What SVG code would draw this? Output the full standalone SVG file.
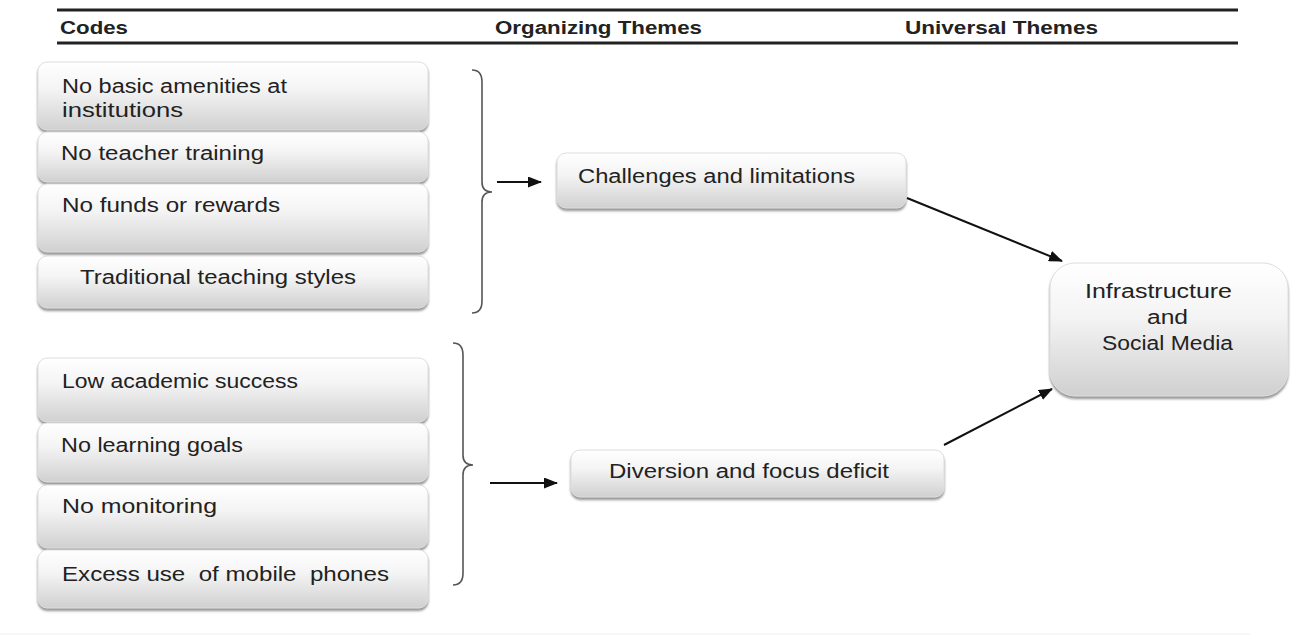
<svg xmlns="http://www.w3.org/2000/svg" width="1291" height="639" viewBox="0 0 1291 639">
<style>
.box{fill:url(#g);stroke:#dedede;stroke-width:1;filter:url(#sh)}
.t{font-family:"Liberation Sans",Arial,sans-serif;font-size:20px;fill:#222}
.h{font-family:"Liberation Sans",Arial,sans-serif;font-size:18px;font-weight:bold;fill:#222}
.rule{stroke:#222;stroke-width:3}
.brace{fill:none;stroke:#555;stroke-width:1.6}
.con line{stroke:#111;stroke-width:2;marker-end:url(#ah)}
</style>
<defs>
<linearGradient id="g" x1="0" y1="0" x2="0" y2="1">
<stop offset="0" stop-color="#ffffff"/>
<stop offset="0.4" stop-color="#f4f4f4"/>
<stop offset="1" stop-color="#d0d0d0"/>
</linearGradient>
<filter id="sh" x="-5%" y="-10%" width="110%" height="130%">
<feDropShadow dx="0" dy="2.5" stdDeviation="1.2" flood-color="#808080" flood-opacity="0.85"/>
</filter>
<marker id="ah" markerWidth="14" markerHeight="11" refX="13" refY="5.5" orient="auto" markerUnits="userSpaceOnUse">
<path d="M0,0 L14,5.5 L0,11 Z" fill="#111"/>
</marker>
</defs>
<rect width="1291" height="639" fill="#ffffff"/>
<g id="header">
<line class="rule" x1="57" y1="10" x2="1238" y2="10"/>
<line class="rule" x1="57" y1="43" x2="1238" y2="43"/>
<text class="h" x="60" y="34" textLength="68" lengthAdjust="spacingAndGlyphs">Codes</text>
<text class="h" x="495" y="34" textLength="207" lengthAdjust="spacingAndGlyphs">Organizing Themes</text>
<text class="h" x="905" y="34" textLength="193" lengthAdjust="spacingAndGlyphs">Universal Themes</text>
</g>
<g id="code1"><rect class="box" x="38" y="62" width="390" height="68" rx="9"/>
<text class="t" x="62" y="93" textLength="225" lengthAdjust="spacingAndGlyphs">No basic amenities at</text>
<text class="t" x="62" y="117" textLength="121" lengthAdjust="spacingAndGlyphs">institutions</text></g>
<g id="code2"><rect class="box" x="38" y="132" width="390" height="50" rx="9"/>
<text class="t" x="61" y="160" textLength="203" lengthAdjust="spacingAndGlyphs">No teacher training</text></g>
<g id="code3"><rect class="box" x="38" y="184" width="390" height="68" rx="9"/>
<text class="t" x="62" y="212" textLength="218" lengthAdjust="spacingAndGlyphs">No funds or rewards</text></g>
<g id="code4"><rect class="box" x="38" y="256" width="390" height="52" rx="9"/>
<text class="t" x="80" y="284" textLength="276" lengthAdjust="spacingAndGlyphs">Traditional teaching styles</text></g>
<g id="code5"><rect class="box" x="38" y="358" width="390" height="64" rx="9"/>
<text class="t" x="62" y="388" textLength="236" lengthAdjust="spacingAndGlyphs">Low academic success</text></g>
<g id="code6"><rect class="box" x="38" y="423" width="390" height="59" rx="9"/>
<text class="t" x="61" y="452" textLength="182" lengthAdjust="spacingAndGlyphs">No learning goals</text></g>
<g id="code7"><rect class="box" x="38" y="485" width="390" height="63" rx="9"/>
<text class="t" x="62" y="513" textLength="155" lengthAdjust="spacingAndGlyphs">No monitoring</text></g>
<g id="code8"><rect class="box" x="38" y="550" width="390" height="58" rx="9"/>
<text class="t" x="62" y="581" xml:space="preserve" textLength="327" lengthAdjust="spacingAndGlyphs">Excess use  of mobile  phones</text></g>
<g id="brace1"><path class="brace" d="M472,70 Q482,70 482,82 L482,182 Q482,192 492,192 Q482,192 482,202 L482,301 Q482,313 472,313"/></g>
<g id="brace2"><path class="brace" d="M453,343 Q463,343 463,355 L463,455 Q463,465 473,465 Q463,465 463,475 L463,573 Q463,585 453,585"/></g>
<g id="challenges"><rect class="box" x="557" y="153" width="349" height="55" rx="9"/>
<text class="t" x="578" y="183" textLength="277" lengthAdjust="spacingAndGlyphs">Challenges and limitations</text></g>
<g id="diversion"><rect class="box" x="571" y="450" width="373" height="47" rx="9"/>
<text class="t" x="609" y="478" textLength="280" lengthAdjust="spacingAndGlyphs">Diversion and focus deficit</text></g>
<g id="infrastructure"><rect class="box" x="1050" y="263" width="238" height="133" rx="25"/>
<text class="t" x="1085" y="298" textLength="147" lengthAdjust="spacingAndGlyphs">Infrastructure</text>
<text class="t" x="1147" y="324" textLength="41" lengthAdjust="spacingAndGlyphs">and</text>
<text class="t" x="1102" y="350" textLength="131" lengthAdjust="spacingAndGlyphs">Social Media</text></g>
<g id="connectors" class="con">
<line x1="497" y1="182" x2="541" y2="182"/>
<line x1="490" y1="483" x2="557" y2="483"/>
<line x1="907" y1="198" x2="1062" y2="261"/>
<line x1="944" y1="445" x2="1052" y2="389"/>
</g>
<line x1="0" y1="634" x2="1250" y2="634" stroke="#f0f0f0" stroke-width="1"/>
</svg>
